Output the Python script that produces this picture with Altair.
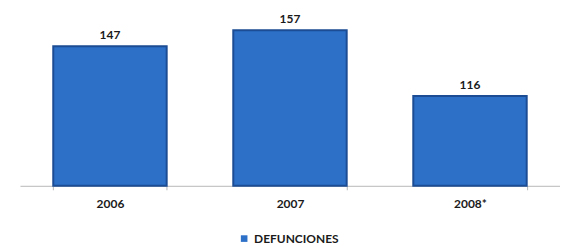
import altair as alt
import pandas as pd

years = ["2006", "2007", "2008*"]
deaths = [147, 157, 116]
series = ["DEFUNCIONES", "DEFUNCIONES", "DEFUNCIONES"]
y_min = 60
y_max = 170

df = pd.DataFrame({"year": years, "value": deaths, "series": series})

base = alt.Chart(df).encode(
    x=alt.X("year:N", sort=years, title=None,
            scale=alt.Scale(paddingInner=0.37, paddingOuter=0.185),
            axis=alt.Axis(labelAngle=0, labelFont="Lato", labelFontWeight="bold",
                          labelFontSize=12, labelColor="#1a1a1a",
                          domainColor="#b8b8b8", tickColor="#b8b8b8",
                          tickSize=4, tickBand="extent", labelPadding=9,
                          grid=False)),
)

bars = base.mark_bar(stroke="#1b4c94", strokeWidth=2).encode(
    y=alt.Y("value:Q", scale=alt.Scale(domain=[y_min, y_max], zero=False, nice=False),
            axis=None),
    y2=alt.datum(y_min),
    color=alt.Color("series:N", title=None,
                    scale=alt.Scale(range=["#2d70c8"]),
                    legend=alt.Legend(orient="none", legendX=219, legendY=224,
                                      direction="horizontal", symbolType="square",
                                      symbolSize=44, symbolStrokeWidth=0,
                                      labelFont="Lato", labelFontWeight="bold",
                                      labelFontSize=12, labelColor="#1a1a1a",
                                      labelOffset=4, padding=0)),
)

labels = base.mark_text(dy=-11, font="Lato", fontWeight="bold", fontSize=12,
                        color="#1a1a1a").encode(
    y=alt.Y("value:Q"),
    text=alt.Text("value:Q"),
)

chart = alt.layer(bars, labels).properties(
    width=542, height=177,
    padding={"left": 12, "top": 1, "right": 0, "bottom": 0},
).configure(background="white").configure_view(stroke=None)

chart.save("out.html", embed_options={"renderer": "svg", "actions": False})
